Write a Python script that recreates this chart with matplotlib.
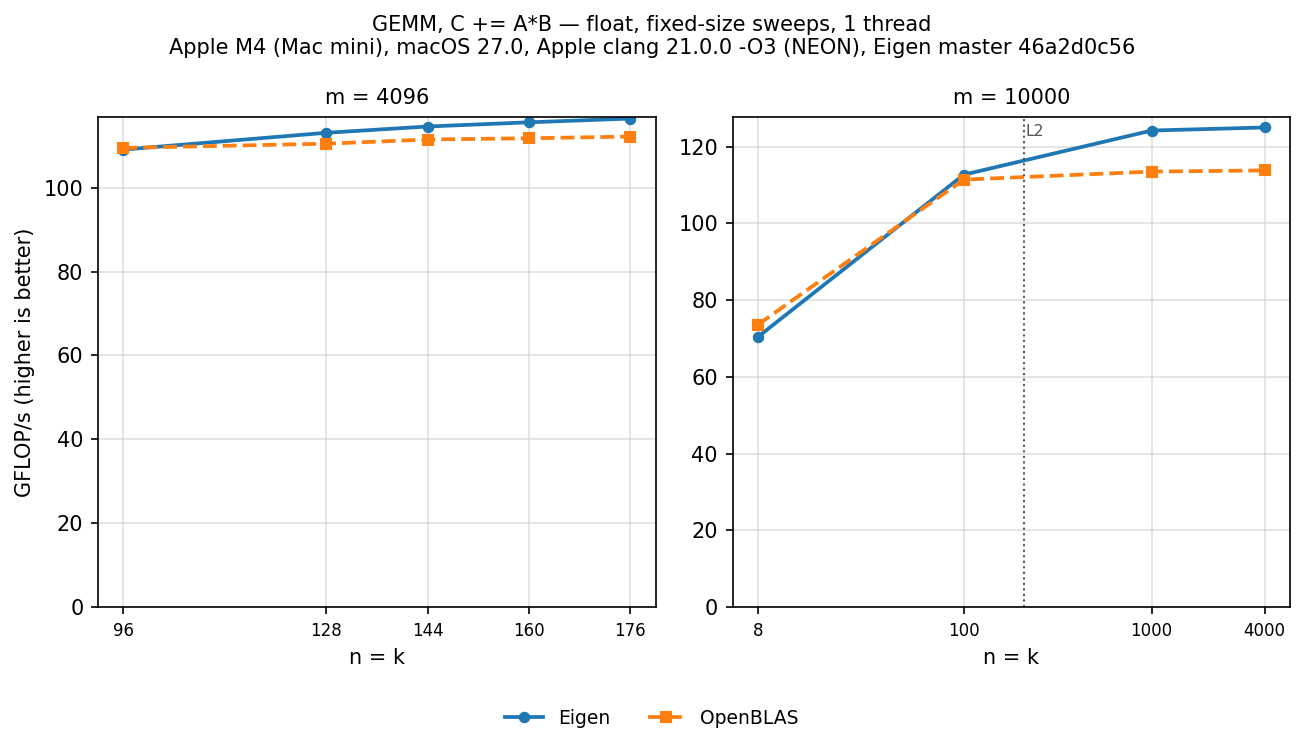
import matplotlib
matplotlib.use("Agg")
import matplotlib.pyplot as plt
from matplotlib.ticker import FixedLocator, FixedFormatter, NullLocator

# m = 4096 sweep
nk_4096 = [96, 128, 144, 160, 176]
eigen_4096 = [109.1, 113.1, 114.6, 115.6, 116.5]
openblas_4096 = [109.5, 110.5, 111.5, 111.8, 112.2]

# m = 10000 sweep
nk_10000 = [8, 100, 1000, 4000]
eigen_10000 = [70.4, 112.7, 124.2, 125.0]
openblas_10000 = [73.6, 111.4, 113.5, 113.8]

l2_nk = 208

title = ("GEMM, C += A*B \u2014 float, fixed-size sweeps, 1 thread\n"
         "Apple M4 (Mac mini), macOS 27.0, Apple clang 21.0.0 -O3 (NEON), Eigen master 46a2d0c56")

fig, (ax1, ax2) = plt.subplots(1, 2, figsize=(1304 / 150, 749 / 150), dpi=150)
fig.subplots_adjust(left=0.0752, right=0.9893, top=0.8438, bottom=0.1896, wspace=0.138)

ax1.plot(nk_4096, eigen_4096, "-o", color="#1f77b4", lw=1.8, ms=4.5, label="Eigen")
ax1.plot(nk_4096, openblas_4096, "--s", color="#ff7f0e", lw=1.8, ms=4.5, label="OpenBLAS")
ax1.set_xticks(nk_4096)
ax1.set_xticklabels([str(v) for v in nk_4096], fontsize=8)
ax1.set_ylim(bottom=0)
ax1.set_title("m = 4096", fontsize=10)
ax1.set_xlabel("n = k", fontsize=10)
ax1.set_ylabel("GFLOP/s (higher is better)", fontsize=10)
ax1.tick_params(axis="y", labelsize=10)
ax1.grid(True, color="#cccccc", alpha=0.6, lw=0.8)

ax2.plot(nk_10000, eigen_10000, "-o", color="#1f77b4", lw=1.8, ms=4.5)
ax2.plot(nk_10000, openblas_10000, "--s", color="#ff7f0e", lw=1.8, ms=4.5)
ax2.set_xscale("log")
ax2.xaxis.set_major_locator(FixedLocator(nk_10000))
ax2.xaxis.set_major_formatter(FixedFormatter([str(v) for v in nk_10000]))
ax2.xaxis.set_minor_locator(NullLocator())
ax2.tick_params(axis="x", labelsize=8)
ax2.tick_params(axis="y", labelsize=10)
ax2.set_ylim(bottom=0)
ax2.axvline(l2_nk, color="#555555", ls=":", lw=1.0)
ax2.text(l2_nk * 1.03, 0.985, "L2", transform=ax2.get_xaxis_transform(),
         ha="left", va="top", fontsize=7.5, color="#555555")
ax2.set_title("m = 10000", fontsize=10)
ax2.set_xlabel("n = k", fontsize=10)
ax2.grid(True, color="#cccccc", alpha=0.6, lw=0.8)

fig.suptitle(title, fontsize=10, y=0.98)
handles, labels = ax1.get_legend_handles_labels()
fig.legend(handles, labels, loc="lower center", ncol=2, frameon=False,
           fontsize=9, bbox_to_anchor=(0.5, 0.006), columnspacing=2.0)

fig.savefig("out.png", dpi=150)
